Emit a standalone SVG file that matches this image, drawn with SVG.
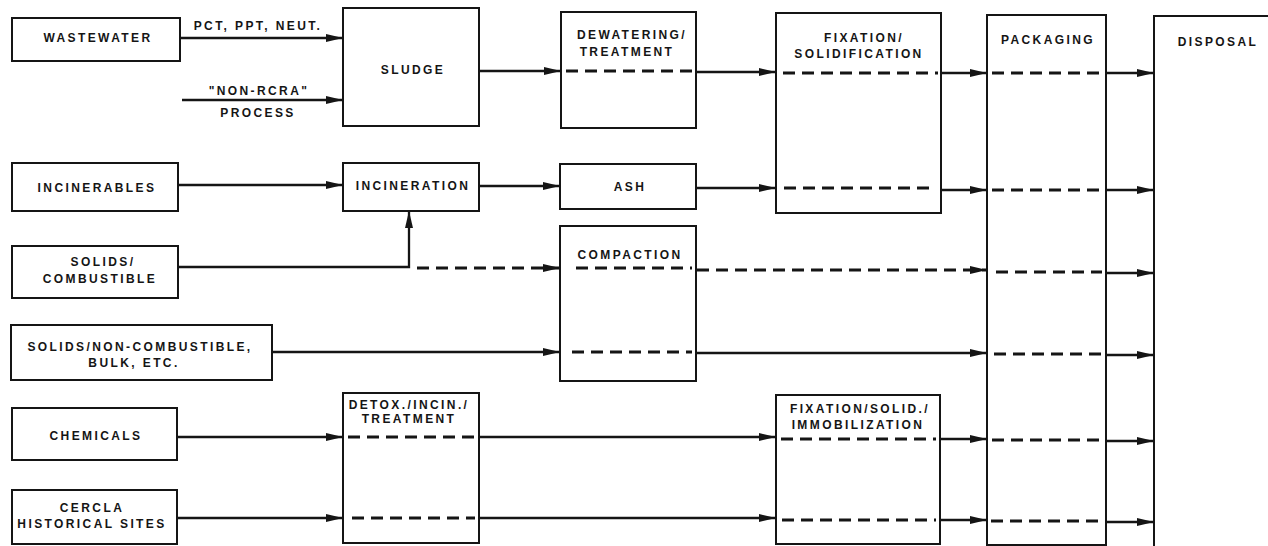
<svg xmlns="http://www.w3.org/2000/svg" width="1268" height="546" viewBox="0 0 1268 546">
<style>
.box{fill:#fff;stroke:#151515;stroke-width:2}
.t{font-family:"Liberation Sans",Arial,sans-serif;font-weight:bold;font-size:12px;letter-spacing:2.4px;fill:#151515;text-anchor:middle}
.s{fill:none;stroke:#151515;stroke-width:2.3}
.a{marker-end:url(#ah)}
.d{fill:none;stroke:#151515;stroke-width:2.8;stroke-dasharray:12 7}
</style>
<defs>
<marker id="ah" markerUnits="userSpaceOnUse" markerWidth="18" markerHeight="10" refX="17" refY="5" orient="auto">
<path d="M0,1 L17,5 L0,9 z" fill="#151515"/>
</marker>
</defs>
<rect width="1268" height="546" fill="#fff"/>

<g id="wastewater"><rect class="box" x="12" y="18" width="168" height="43"/><text class="t" x="98" y="42">WASTEWATER</text></g>
<g id="sludge"><rect class="box" x="343" y="8" width="136" height="118"/><text class="t" x="413" y="74">SLUDGE</text></g>
<g id="dewatering"><rect class="box" x="561" y="12" width="135" height="116"/><text class="t" x="632" y="39">DEWATERING/</text><text class="t" x="627" y="56">TREATMENT</text></g>
<g id="fixation1"><rect class="box" x="776" y="13" width="165" height="200"/><text class="t" x="864" y="42">FIXATION/</text><text class="t" x="859" y="58">SOLIDIFICATION</text></g>
<g id="packaging"><rect class="box" x="987" y="15" width="119" height="530"/><text class="t" x="1048" y="44">PACKAGING</text></g>
<g id="disposal"><rect class="box" x="1154" y="16" width="130" height="540"/><text class="t" x="1218" y="46">DISPOSAL</text></g>

<g id="incinerables"><rect class="box" x="12" y="163" width="166" height="48"/><text class="t" x="97" y="192">INCINERABLES</text></g>
<g id="incineration"><rect class="box" x="343" y="163" width="136" height="48"/><text class="t" x="413" y="190">INCINERATION</text></g>
<g id="ash"><rect class="box" x="560" y="164" width="136" height="45"/><text class="t" x="630" y="191">ASH</text></g>

<g id="solids-combustible"><rect class="box" x="12" y="246" width="166" height="52"/><text class="t" x="103" y="266">SOLIDS/</text><text class="t" x="100" y="283">COMBUSTIBLE</text></g>
<g id="compaction"><rect class="box" x="560" y="226" width="136" height="155"/><text class="t" x="630" y="259">COMPACTION</text></g>

<g id="solids-noncombustible"><rect class="box" x="11" y="325" width="261" height="55"/><text class="t" x="140" y="351">SOLIDS/NON-COMBUSTIBLE,</text><text class="t" x="134" y="367">BULK, ETC.</text></g>

<g id="chemicals"><rect class="box" x="12" y="408" width="165" height="52"/><text class="t" x="96" y="440">CHEMICALS</text></g>
<g id="detox"><rect class="box" x="343" y="393" width="136" height="150"/><text class="t" x="409" y="409">DETOX./INCIN./</text><text class="t" x="409" y="423">TREATMENT</text></g>
<g id="fixation2"><rect class="box" x="776" y="395" width="164" height="149"/><text class="t" x="860" y="413">FIXATION/SOLID./</text><text class="t" x="858" y="429">IMMOBILIZATION</text></g>

<g id="cercla"><rect class="box" x="12" y="490" width="165" height="54"/><text class="t" x="92" y="512">CERCLA</text><text class="t" x="92" y="528">HISTORICAL SITES</text></g>

<g id="labels">
<text class="t" x="258" y="30">PCT, PPT, NEUT.</text>
<text class="t" x="259" y="95">"NON-RCRA"</text>
<text class="t" x="258" y="117">PROCESS</text>
</g>

<g id="connectors">
<path class="s a" d="M180,38 H343"/>
<path class="s a" d="M182,100 H343"/>
<path class="s a" d="M479,71 H561"/>
<path class="d" d="M566,71 H692"/>
<path class="s a" d="M696,72 H776"/>
<path class="d" d="M783,73 H938"/>
<path class="s a" d="M941,73 H987"/>
<path class="d" d="M992,73 H1102"/>
<path class="s a" d="M1106,73 H1154"/>

<path class="s a" d="M178,185 H343"/>
<path class="s a" d="M479,186 H560"/>
<path class="s a" d="M696,188 H776"/>
<path class="d" d="M784,188 H936"/>
<path class="s a" d="M941,190 H987"/>
<path class="d" d="M992,190 H1102"/>
<path class="s a" d="M1106,190 H1154"/>

<path class="s a" d="M178,267 H409 V211"/>
<path class="d a" d="M417,268 H560"/>
<path class="d" d="M576,268 H692"/>
<path class="d a" d="M697,270 H987"/>
<path class="d" d="M996,272 H1102"/>
<path class="s a" d="M1106,273 H1154"/>

<path class="s a" d="M272,352 H560"/>
<path class="d" d="M572,352 H692"/>
<path class="s a" d="M696,353 H987"/>
<path class="d" d="M994,354 H1102"/>
<path class="s a" d="M1106,355 H1154"/>

<path class="s a" d="M177,437 H343"/>
<path class="d" d="M348,437 H475"/>
<path class="s a" d="M479,437 H776"/>
<path class="d" d="M781,439 H936"/>
<path class="s a" d="M940,439 H987"/>
<path class="d" d="M992,440 H1102"/>
<path class="s a" d="M1106,441 H1154"/>

<path class="s a" d="M177,518 H343"/>
<path class="d" d="M352,518 H475"/>
<path class="s a" d="M479,518 H776"/>
<path class="d" d="M782,520 H936"/>
<path class="s a" d="M940,520 H987"/>
<path class="d" d="M991,521 H1102"/>
<path class="s a" d="M1106,522 H1154"/>
</g>
</svg>
